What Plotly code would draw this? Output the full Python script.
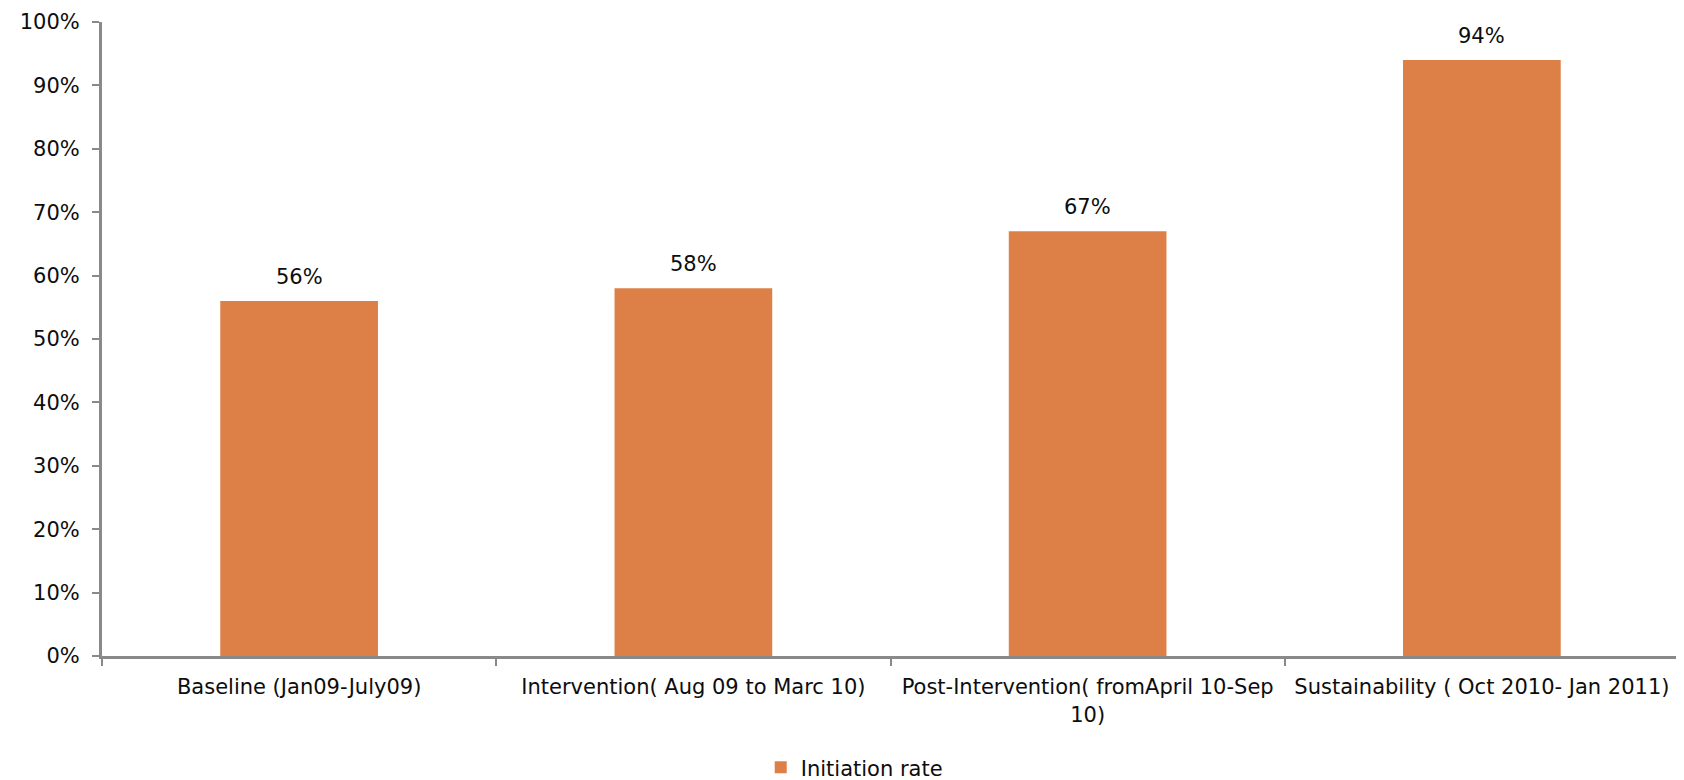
import plotly.graph_objects as go

categories = [
    "Baseline (Jan09-July09)",
    "Intervention( Aug 09 to Marc 10)",
    "Post-Intervention( fromApril 10-Sep<br>10)",
    "Sustainability ( Oct 2010- Jan 2011)",
]
values = [0.56, 0.58, 0.67, 0.94]
value_labels = ["56%", "58%", "67%", "94%"]
series_name = "Initiation rate"
y_ticks = [0, 0.1, 0.2, 0.3, 0.4, 0.5, 0.6, 0.7, 0.8, 0.9, 1.0]
y_tick_text = ["0%", "10%", "20%", "30%", "40%", "50%", "60%", "70%", "80%", "90%", "100%"]

FONT = "'DejaVu Sans', sans-serif"
FS = 21
BAR = "#DD8047"
AXIS = "#898989"
TXT = "#0d0d0d"

fig = go.Figure()
fig.add_trace(go.Bar(
    x=categories, y=values, name=series_name,
    marker=dict(color=BAR, line=dict(width=0)),
    width=0.4, showlegend=True,
))

for c, v, t in zip(categories, values, value_labels):
    fig.add_annotation(x=c, y=v, text=t, showarrow=False, yanchor="bottom",
                       yshift=10, font=dict(family=FONT, size=FS, color=TXT))

# page body has an 8px default margin, so the figure is slightly smaller
fig.update_layout(
    width=1676, height=772,
    margin=dict(l=94, r=5, t=14, b=124, autoexpand=False),
    paper_bgcolor="white", plot_bgcolor="white",
    font=dict(family=FONT, size=FS, color=TXT),
    bargap=0.6,
    legend=dict(orientation="h", x=0.477, xanchor="center",
                yref="container", y=0.016, yanchor="middle",
                font=dict(family=FONT, size=FS, color=TXT), itemwidth=30),
    xaxis=dict(
        type="category", showline=True, linecolor=AXIS, linewidth=3,
        ticks="outside", tickson="boundaries", ticklen=7, tickcolor=AXIS, tickwidth=2,
        showgrid=False, automargin=False, ticklabelstandoff=10, tickangle=0,
        tickfont=dict(family=FONT, size=FS, color=TXT),
    ),
    yaxis=dict(
        range=[0, 1.0], tickvals=y_ticks, ticktext=y_tick_text,
        showline=True, linecolor=AXIS, linewidth=3,
        ticks="outside", ticklen=7, tickcolor=AXIS, tickwidth=2,
        showgrid=False, zeroline=False, automargin=False, ticklabelstandoff=8,
        tickfont=dict(family=FONT, size=FS, color=TXT),
    ),
)

fig.write_html("out.html")
